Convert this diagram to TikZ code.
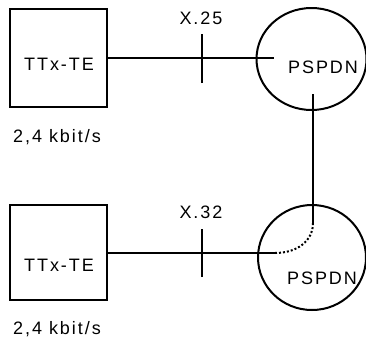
\documentclass[tikz,border=0pt]{standalone}
\usepackage{fontspec}
\setmainfont{Liberation Sans}[LetterSpace=11]
\usetikzlibrary{shapes.geometric}
\begin{document}
\begin{tikzpicture}[x=1pt,y=-1pt,
  line width=2pt,
  term/.style={draw,inner sep=0pt},
  net/.style={draw,ellipse,inner sep=0pt},
  lbl/.style={font=\fontsize{18}{20}\selectfont,inner sep=0pt}]
\useasboundingbox (0,0) rectangle (366,343);
% terminals
\node[term,minimum width=97pt,minimum height=98pt] (t1) at (58.5,58) {};
\node[lbl] at (59,64.5) {TTx-TE};
\node[lbl] (r1) at (57,137) {2,4 kbit/s};
\node[term,minimum width=97pt,minimum height=95pt] (t2) at (58.5,252.5) {};
\node[lbl] at (59,265) {TTx-TE};
\node[lbl] (r2) at (57,329) {2,4 kbit/s};
% packet networks
\node[net,minimum width=110pt,minimum height=102pt] (n1) at (311.5,59) {};
\node[lbl] at (323,67.5) {PSPDN};
\node[net,minimum width=108pt,minimum height=105pt] (n2) at (312,257.5) {};
\node[lbl] at (322,278) {PSPDN};
% interface points
\coordinate (e1) at (274,58);
\coordinate (e2) at (275,253);
\coordinate (v1) at (313,94);
\coordinate (v2) at (313,223);
\coordinate (p1) at (201.5,58);
\coordinate (p2) at (201.5,253);
\draw (t1.east |- e1) -- (e1);
\draw (t2.east |- e2) -- (e2);
\draw (v1) -- (v2);
\draw[dotted,line width=2pt] (e2) .. controls (297,253) and (313,241) .. (v2);
% reference point ticks
\draw ([yshift=-25pt]p1) -- ([yshift=24pt]p1);
\draw ([yshift=-24pt]p2) -- ([yshift=24pt]p2);
\node[lbl] at (201,18) {X.25};
\node[lbl] at (201,212) {X.32};
\end{tikzpicture}
\end{document}
